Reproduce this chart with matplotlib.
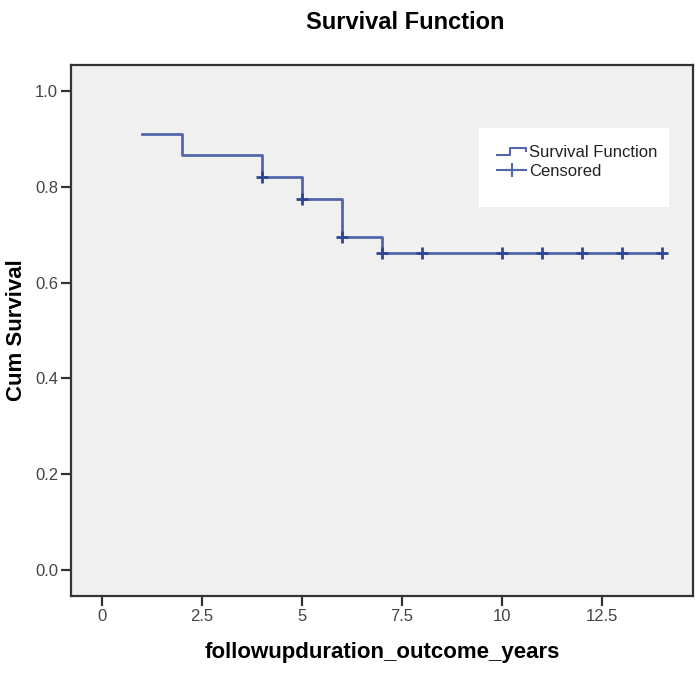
import matplotlib
matplotlib.use("Agg")
import matplotlib.pyplot as plt
from matplotlib.lines import Line2D
from matplotlib.patches import Rectangle
from matplotlib.legend_handler import HandlerBase

plt.rcParams['font.family'] = ['Liberation Sans', 'DejaVu Sans']

# ---- data ----
step_times = [1, 2, 4, 5, 6, 7, 14]
step_survival = [0.909, 0.866, 0.821, 0.775, 0.696, 0.662, 0.662]
censor_times = [4, 5, 6, 7, 8, 10, 11, 12, 13, 14]
censor_survival = [0.821, 0.775, 0.696, 0.662, 0.662, 0.662, 0.662, 0.662, 0.662, 0.662]
x_ticks = [0, 2.5, 5, 7.5, 10, 12.5]
x_tick_labels = ["0", "2.5", "5", "7.5", "10", "12.5"]
y_ticks = [0.0, 0.2, 0.4, 0.6, 0.8, 1.0]
y_tick_labels = ["0.0", "0.2", "0.4", "0.6", "0.8", "1.0"]

line_color = '#5466a8'
mark_color = '#2f4694'
spine_color = '#333333'

fig = plt.figure(figsize=(7.0, 6.74), dpi=100)
ax = fig.add_axes([0.101, 0.1157, 0.889, 0.788])
ax.set_facecolor('#f0f0f0')

ax.step(step_times, step_survival, where='post', color=line_color, lw=2, zorder=3)
ax.plot(censor_times, censor_survival, linestyle='none', marker='+', markersize=9,
        mew=2, color=mark_color, zorder=4)

ax.set_xlim(-0.775, 14.78)
ax.set_ylim(-0.054, 1.054)
ax.set_xticks(x_ticks)
ax.set_xticklabels(x_tick_labels)
ax.set_yticks(y_ticks)
ax.set_yticklabels(y_tick_labels)
ax.tick_params(axis='both', direction='out', length=7, width=1.6, color=spine_color,
               labelsize=12, labelcolor='#444444', pad=2)
for s in ax.spines.values():
    s.set_color(spine_color)
    s.set_linewidth(1.6)

ax.set_xlabel('followupduration_outcome_years', fontsize=16, fontweight='bold', va='center')
ax.xaxis.set_label_coords(0.5, -0.107)
ax.set_ylabel('Cum Survival', fontsize=16, fontweight='bold', va='center')
ax.yaxis.set_label_coords(-0.0863, 0.5)

fig.text(0.579, 0.967, 'Survival Function', fontsize=17, fontweight='bold',
         ha='center', va='center')

# legend background
ax.add_patch(Rectangle((0.656, 0.733), 0.305, 0.148, transform=ax.transAxes,
                       facecolor='white', edgecolor='none', zorder=5))


class HandlerStep(HandlerBase):
    def create_artists(self, legend, orig_handle, xdescent, ydescent, width, height,
                       fontsize, trans):
        x0 = -xdescent
        y0 = -ydescent
        lo = y0 + height * 0.15
        hi = y0 + height * 0.75
        xs = [x0, x0 + width * 0.45, x0 + width * 0.45, x0 + width, x0 + width]
        ys = [lo, lo, hi, hi, hi - height * 0.25]
        ln = Line2D(xs, ys, color=line_color, lw=1.5, transform=trans)
        return [ln]


h_step = Line2D([], [], color=line_color, lw=1.5)
h_cens = Line2D([], [], color=line_color, lw=1.5, marker='+', markersize=10, mew=1.5,
                markeredgecolor=line_color)
leg = ax.legend([h_step, h_cens], ['Survival Function', 'Censored'],
                handler_map={h_step: HandlerStep()},
                loc='upper left', bbox_to_anchor=(0.685, 0.849), frameon=False,
                borderpad=0, borderaxespad=0, handlelength=1.75, handletextpad=0.2,
                labelspacing=0.25, fontsize=12)
leg.set_zorder(6)
for t in leg.get_texts():
    t.set_color('#222222')

fig.savefig('out.png', dpi=100, facecolor='white')
